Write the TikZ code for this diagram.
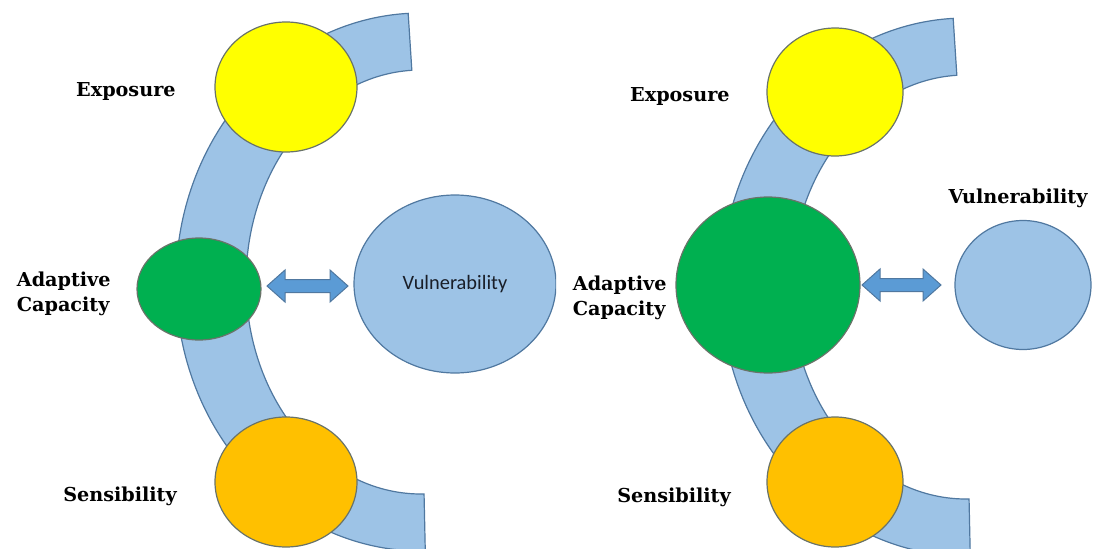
\documentclass[tikz,border=0pt]{standalone}
\usepackage{fontspec}
\newfontfamily\labelfont{DejaVu Serif}
\newfontfamily\inner{Carlito}
\usetikzlibrary{shapes.geometric,calc}

\definecolor{bandblue}{RGB}{157,195,230}
\definecolor{arrowblue}{RGB}{91,155,213}
\definecolor{blueline}{RGB}{80,120,160}
\definecolor{greyline}{RGB}{105,115,105}
\definecolor{sunyellow}{RGB}{255,255,0}
\definecolor{leafgreen}{RGB}{0,176,80}
\definecolor{amber}{RGB}{255,192,0}
\definecolor{inktext}{RGB}{25,30,40}

\tikzset{
  band/.style={fill=bandblue, draw=blueline, line width=0.6pt},
  blob/.style={ellipse, draw=greyline, line width=0.6pt, inner sep=0pt},
  vulblob/.style={ellipse, fill=bandblue, draw=blueline, line width=0.6pt, inner sep=0pt},
  twoway/.style={fill=arrowblue, draw=blueline, line width=0.5pt, line join=miter},
  factor/.style={font=\labelfont\bfseries\fontsize{9.6}{12.5}\selectfont, text=black, inner sep=0pt},
}

% one block arc of an elliptical ring: centre, outer radii, inner radii
\newcommand{\ringband}[6]{%
  \draw[band] ($(#1,#2)+(93:#3 and #4)$)
    arc[start angle=93, end angle=271, x radius=#3, y radius=#4]
    -- ($(#1,#2)+(271:#5 and #6)$)
    arc[start angle=271, end angle=93, x radius=#5, y radius=#6] -- cycle;}

% horizontal block double arrow between two named tip points
\newcommand{\blockarrow}[2]{%
  \draw[twoway] (#1) -- ++(18,16) -- ++(0,-9.5) -- ($(#2)+(-18,6.5)$) -- ++(0,9.5)
    -- (#2) -- ++(-18,-16) -- ++(0,9.5) -- ($(#1)+(18,-6.5)$) -- ++(0,-9.5) -- cycle;}

\begin{document}
\begin{tikzpicture}[x=0.5pt, y=0.5pt]
\useasboundingbox (0,0) rectangle (1094,548);
\clip (0,0) rectangle (1094,548);

% ---------- first panel ----------
\begin{scope}
\clip (0,0) rectangle (556,548);
\ringband{421}{266}{245}{269}{175}{212}
\node[blob, fill=sunyellow, minimum width=71pt, minimum height=65pt] (exp1) at (286,461) {};
\node[blob, fill=leafgreen, minimum width=62pt, minimum height=51pt] (ada1) at (199,259) {};
\node[blob, fill=amber, minimum width=71pt, minimum height=65pt] (sen1) at (286,66) {};
\node[vulblob, minimum width=101pt, minimum height=89pt,
      font=\inner\fontsize{10.2}{12}\selectfont, text=inktext] (vul1) at (455,264) {Vulnerability};
\coordinate (a1l) at (267,262);
\coordinate (a1r) at (348,262);
\blockarrow{a1l}{a1r}
\end{scope}

\node[factor, anchor=east, align=left] (lexp1) at (176,457) {Exposure};
\node[factor, anchor=east, align=left] (lada1) at (111,254) {Adaptive\\Capacity};
\node[factor] (lsen1) at (120,52) {Sensibility};

% ---------- second panel ----------
\ringband{966}{261}{245}{269}{175}{212}
\node[blob, fill=sunyellow, minimum width=68pt, minimum height=64pt] (exp2) at (835,456) {};
\node[blob, fill=leafgreen, minimum width=92pt, minimum height=88pt] (ada2) at (768,263) {};
\node[blob, fill=amber, minimum width=68pt, minimum height=65pt] (sen2) at (835,66) {};
\node[vulblob, minimum width=68pt, minimum height=64.5pt] (vul2) at (1023,263) {};
\coordinate (a2l) at (862,263);
\coordinate (a2r) at (941,263);
\blockarrow{a2l}{a2r}

\node[factor, anchor=east] (lexp2) at (730,452) {Exposure};
\node[factor, anchor=east, align=left] (lada2) at (667,250) {Adaptive\\Capacity};
\node[factor] (lsen2) at (674,51) {Sensibility};
\node[factor] (lvul2) at (1018,350) {Vulnerability};
\end{tikzpicture}
\end{document}
